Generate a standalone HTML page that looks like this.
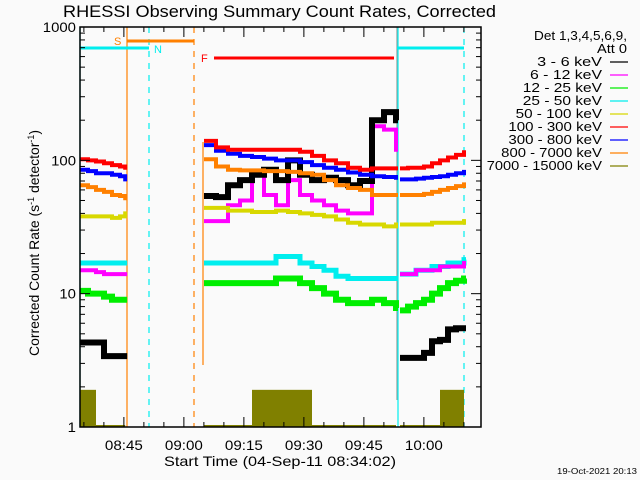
<!DOCTYPE html>
<html><head><meta charset="utf-8"><style>
body{margin:0;background:#fafafa;}
svg{display:block;font-family:"Liberation Sans",sans-serif;}
</style></head><body>
<svg id="chart" width="640" height="480" viewBox="0 0 640 480">
<rect width="640" height="480" fill="#fafafa"/>
<text x="63" y="17" font-size="17" textLength="433" lengthAdjust="spacingAndGlyphs">RHESSI Observing Summary Count Rates, Corrected</text>
<g id="marks"></g>
<g id="axes"></g>
<text transform="translate(39,356) rotate(-90)" font-size="14" textLength="226" lengthAdjust="spacingAndGlyphs">Corrected Count Rate (s<tspan baseline-shift="super" font-size="9">-1</tspan> detector<tspan baseline-shift="super" font-size="9">-1</tspan>)</text>
<text x="164" y="466" font-size="14" textLength="232" lengthAdjust="spacingAndGlyphs">Start Time (04-Sep-11 08:34:02)</text>
<text x="557" y="474" font-size="8" textLength="80" lengthAdjust="spacingAndGlyphs">19-Oct-2021 20:13</text>
<g id="legend">
<text x="534" y="40" font-size="13" textLength="93" lengthAdjust="spacingAndGlyphs">Det 1,3,4,5,6,9,</text>
<text x="597" y="53" font-size="13" textLength="30" lengthAdjust="spacingAndGlyphs">Att 0</text>
</g>
</svg>
<script>
const legendLabels=["3 - 6 keV","6 - 12 keV","12 - 25 keV","25 - 50 keV","50 - 100 keV","100 - 300 keV","300 - 800 keV","800 - 7000 keV","7000 - 15000 keV"];
const colors=["#000000","#ff00ff","#00ee00","#00eeee","#d8d800","#ff0000","#0000ff","#ff8000","#808000"];
const yTickLabels=["1","10","100","1000"];
const xTickLabels=["08:45","09:00","09:15","09:30","09:45","10:00"];
const xTickMinutes=[10.97,25.97,40.97,55.97,70.97,85.97];
// segment times (minutes after 08:34:02)
const t1=[0,2,4,6,8,10,11.3];
const t2=[31,34,37,40,43,46,49,52,55,58,61,64,67,70,73,76,79];
const t3=[80,82,84,86,88,90,92,94,96];
// segment 1 values
const s1_black=[4.3,4.3,4.3,3.4,3.4,3.4,3.4];
const s1_magenta=[15,15,14.5,14,14,14,14];
const s1_green=[10.5,10,10,9.5,9,9,9];
const s1_cyan=[17,17,17,17,17,17,17];
const s1_yellow=[38,38,38,38,37,38,40];
const s1_red=[102,100,98,95,92,90,88];
const s1_blue=[85,83,80,80,78,76,72];
const s1_orange=[65,63,60,58,55,54,52];
const s1_olive=[1.9,1.9,1,1,1,1,1];
// segment 2 values
const s2_black=[54,53,65,71,78,85,71,100,78,71,74,71,65,70,200,230,200];
const s2_magenta=[35,35,46,50,78,55,46,71,55,50,46,42,40,40,180,170,120];
const s2_green=[12,12,12,12,12,12,13,13,12,11,10,9,8.5,8.5,9,8.5,7.8];
const s2_cyan=[17,17,17,17,17,17,19,19,17,16,15,13.5,13,13,13,13,13];
const s2_yellow=[44,44,42,42,41,41,42,41,40,39,38,36,34,33,33,32,33];
const s2_red=[140,125,120,120,120,120,120,120,116,108,100,95,88,85,87,87,87];
const s2_blue=[130,118,112,108,106,103,100,100,97,92,88,85,81,78,76,75,74];
const s2_orange=[102,90,85,84,84,83,83,82,80,78,71,65,62,60,55,55,55];
const s2_olive=[1,1,1,1,1.9,1.9,1.9,1.9,1.9,1,1,1,1,1,1,1,1];
// segment 3 values
const s3_black=[3.3,3.3,3.3,3.6,4.4,4.5,5.4,5.5,5.5];
const s3_magenta=[14,14,15,15,15,16,16,16,17];
const s3_green=[7.5,8,8.5,9,10,11,12,12.5,13];
const s3_cyan=[14,14,15,15,16,16,17,17,18];
const s3_yellow=[33,33,33,33,34,34,34,34,35];
const s3_red=[87,88,88,90,95,100,105,110,115];
const s3_blue=[72,72,73,74,75,76,78,80,82];
const s3_orange=[55,55,55,56,58,60,62,64,66];
const s3_olive=[1,1,1,1,1,1.9,1.9,1.9,1.9];

const NS="http://www.w3.org/2000/svg";
const X0=80,X1=481,Y0=27,Y1=427;
function X(t){return X0+4*t;}
function Y(v){return Y1-133.33*Math.log10(v);}
const marks=document.getElementById('marks');
const axes=document.getElementById('axes');
const legend=document.getElementById('legend');
function mk(tag,attrs,parent){const e=document.createElementNS(NS,tag);for(const k in attrs)e.setAttribute(k,attrs[k]);parent.appendChild(e);return e;}

// vertical markers
const vlines=[[80,27,427,"#00eeee",""],[127,27,427,"#ff8000",""],[149,27,427,"#00eeee","6,6"],[194,27,427,"#ff8000","6,6"],[203,142,365,"#ff8000",""],[397,27,400,"#999999",""],[398,27,427,"#00eeee",""],[464,27,427,"#00eeee","6,6"]];
vlines.forEach(v=>{const l=mk('line',{x1:v[0],x2:v[0],y1:v[1],y2:v[2],stroke:v[3],'stroke-width':1.2,'stroke-dasharray':v[4]},marks);

});

const segs=[
 {t:t1,s:[s1_black,s1_magenta,s1_green,s1_cyan,s1_yellow,s1_red,s1_blue,s1_orange,s1_olive]},
 {t:t2,s:[s2_black,s2_magenta,s2_green,s2_cyan,s2_yellow,s2_red,s2_blue,s2_orange,s2_olive]},
 {t:t3,s:[s3_black,s3_magenta,s3_green,s3_cyan,s3_yellow,s3_red,s3_blue,s3_orange,s3_olive]}];
const widths=[6,4,6,5,4,4,4,4,0];
const order=[8,2,3,1,4,0,7,6,5];
segs.forEach((sg,si)=>{
 order.forEach(k=>{
  const vals=sg.s[k];
  if(k===8){
   for(let i=0;i<vals.length-1;i++){ if(vals[i]>1.05){
    const r=mk('rect',{x:X(sg.t[i]),y:Y(vals[i]),width:X(sg.t[i+1])-X(sg.t[i]),height:Y1-Y(vals[i]),fill:colors[8]},marks);
    
    }}
   const b=mk('line',{x1:X(sg.t[0]),x2:X(sg.t[sg.t.length-1]),y1:Y1-1,y2:Y1-1,stroke:colors[8],'stroke-width':2},marks);
   
   
   return;}
  let d='';
  vals.forEach((v,i)=>{const x=X(sg.t[i]),y=Y(v);
   if(i===0)d+='M'+x+','+y;else d+=' H'+x+' V'+y;});
  d+=' H'+(X(sg.t[sg.t.length-1])+2);
  const p=mk('path',{d:d,fill:'none',stroke:colors[k],'stroke-width':widths[k]},marks);
  
  
 });
});

// top annotation bars
const ann=[[80,149,48,"#00eeee"],[397,464,48,"#00eeee"],[127,194,41,"#ff8000"],[214,394,58,"#ff0000"]];
ann.forEach(a=>{const l=mk('line',{x1:a[0],x2:a[1],y1:a[2],y2:a[2],stroke:a[3],'stroke-width':3},marks);

});
[["S",114,45,"#ff8000"],["N",154,53,"#00eeee"],["F",201,62,"#ff0000"]].forEach(a=>{
 const t=mk('text',{x:a[1],y:a[2],fill:a[3],'font-size':11},marks);t.textContent=a[0];
 
 });

// frame
const f=mk('rect',{x:X0,y:Y0,width:X1-X0,height:Y1-Y0,fill:'none',stroke:'#000','stroke-width':1.5},axes);


// y ticks
for(let dec=0;dec<3;dec++){for(let m=1;m<10;m++){
 const y=Y(m*Math.pow(10,dec));const len=m===1?10:5;
 const a=mk('line',{x1:X0,x2:X0+len,y1:y,y2:y,stroke:'#000'},axes);
 
 
 const b=mk('line',{x1:X1,x2:X1-len,y1:y,y2:y,stroke:'#000'},axes);
 
 }}
yTickLabels.forEach((lab,i)=>{const t=mk('text',{x:X0-4,y:Y(Math.pow(10,i))+5,'font-size':14,'text-anchor':'end','textLength':lab.length*8.3,'lengthAdjust':'spacingAndGlyphs'},axes);t.textContent=lab;
 
 });
// x ticks
for(let m=xTickMinutes[0]-10;m<=100;m+=5){ if(m<0)continue;
 const major=xTickMinutes.some(v=>Math.abs(v-m)<0.01);const len=major?10:5;const x=X(m);
 const a=mk('line',{x1:x,x2:x,y1:Y1,y2:Y1-len,stroke:'#000'},axes);
 
 
 const b=mk('line',{x1:x,x2:x,y1:Y0,y2:Y0+len,stroke:'#000'},axes);
 
 }
xTickLabels.forEach((lab,i)=>{const t=mk('text',{x:X(xTickMinutes[i])-19,y:450,'font-size':14,'textLength':38,'lengthAdjust':'spacingAndGlyphs'},axes);t.textContent=lab;
 
 });
// legend
legendLabels.forEach((lab,i)=>{const y=66+i*13;const w=lab.length*7.2;
 const t=mk('text',{x:602-w,y:y,'font-size':13,'textLength':w,'lengthAdjust':'spacingAndGlyphs'},legend);t.textContent=lab;
 
 
 const l=mk('line',{x1:610,x2:628,y1:y-4,y2:y-4,stroke:colors[i],'stroke-width':1.2},legend);
 
 });
</script>
</body></html>
